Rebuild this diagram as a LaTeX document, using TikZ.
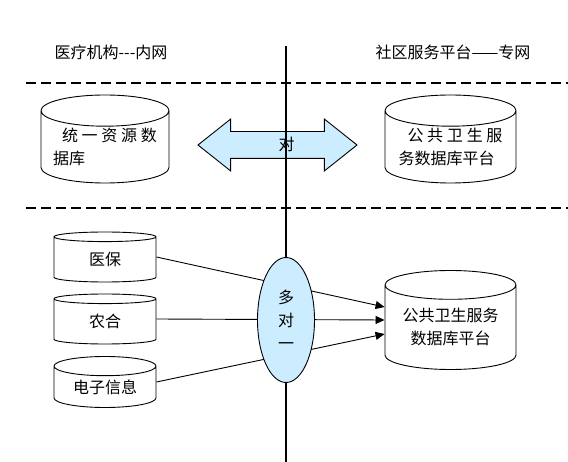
\documentclass[tikz,border=0pt]{standalone}
\usepackage{fontspec}
\setmainfont{Noto Sans CJK SC}
\usetikzlibrary{shapes.geometric,shapes.arrows,arrows.meta}
\definecolor{lightsky}{RGB}{204,236,255}

\begin{document}
\begin{tikzpicture}[x=1pt,y=-1pt,
    font=\fontsize{16}{23}\selectfont,
    db/.style={cylinder, shape border rotate=90, draw, line width=0.9pt,
               aspect=0.3, inner sep=0pt, anchor=shape center},
    link/.style={line width=0.9pt},
    zone/.style={line width=2pt, dash pattern=on 10pt off 5pt}]
    \useasboundingbox (0,0) rectangle (568,462);
    \def\gp{\hspace{3.75pt}} % gap in the stretched first lines

    % the two nets
    \node (inner) at (111,52) {医疗机构-{}-{}-内网};
    \node (outer) at (453,52) {社区服务平台——专网};
    \draw [zone] (26,83) -- (568,83);
    \draw [zone] (26,208) -- (568,208);

    % one to one
    \node [db, minimum width=128, minimum height=88, align=left]
    (ziyuan) at (105,139) {\hspace*{9pt}统\gp 一\gp 资\gp 源\gp 数\\据库};
    \node [db, minimum width=131, minimum height=88, align=left]
    (gwpt) at (450.5,139) {\hspace*{9pt}公\gp 共\gp 卫\gp 生\gp 服\\务数据库平台};
    \node [double arrow, draw, fill=lightsky, line width=0.9pt,
           inner xsep=0pt, inner ysep=5pt, text height=14pt, text depth=2pt,
           minimum height=159, minimum width=51,
           double arrow head extend=12.5, double arrow tip angle=77]
    (sync) at (277.5,145) {\hspace*{18pt}对};

    \draw [line width=2pt] (286,46) -- (286,462); % border of the nets

    % many to one
    \node [db, minimum width=102, minimum height=50] (ybao) at (105,257) {医保};
    \node [db, minimum width=102, minimum height=50] (nonghe) at (105,319) {农合};
    \node [db, minimum width=102, minimum height=51] (dianzi) at (105,382) {电子信息};
    \node [db, minimum width=131, minimum height=99, align=center]
    (gwdb) at (450.5,320) {公共卫生服务\\数据库平台};
    \coordinate (gwin) at (gwdb.west |- gwdb.shape center);

    \draw [link,-{Triangle[length=9pt,width=8pt]}]
        (ybao.east |- ybao.shape center) -- ([yshift=13pt]gwin);
    \draw [link,-{Triangle[length=9pt,width=8pt]}]
        (nonghe.east |- nonghe.shape center) -- (gwin);
    \draw [link,-{Triangle[length=9pt,width=8pt]}]
        (dianzi.east |- dianzi.shape center) -- ([yshift=-14pt]gwin);

    \node [ellipse, draw, fill=lightsky, line width=0.9pt, inner sep=0pt,
           minimum width=57, minimum height=125, align=center]
    (many) at (286,320) {多\\对\\一};
\end{tikzpicture}
\end{document}
